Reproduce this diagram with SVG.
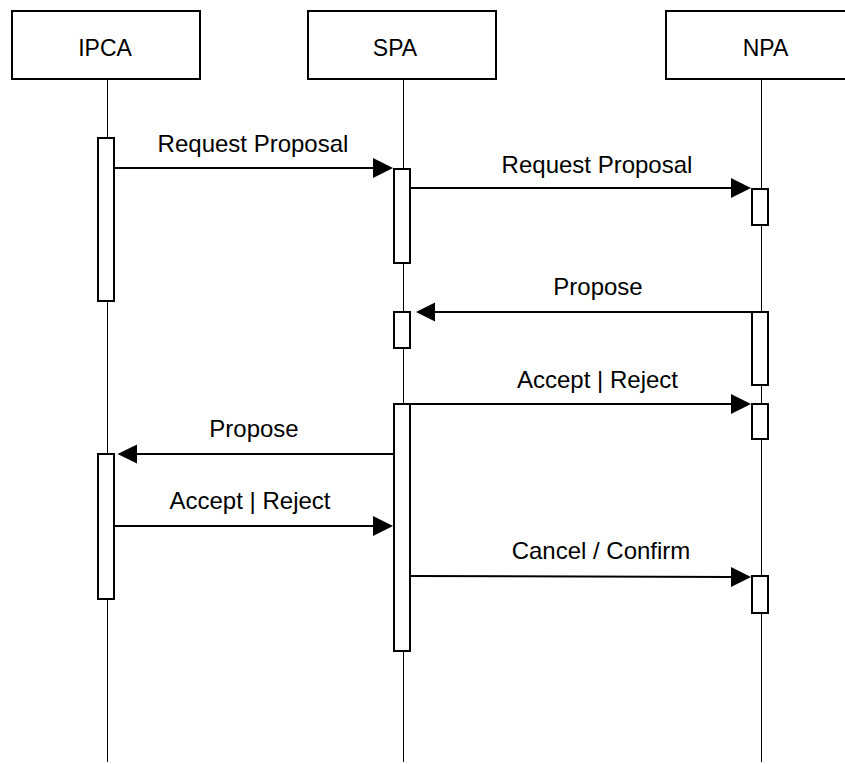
<svg xmlns="http://www.w3.org/2000/svg" width="845" height="764" viewBox="0 0 845 764">
<style>
  .box{fill:#fff;stroke:#000;stroke-width:2}
  .life{stroke:#000;stroke-width:1;fill:none}
  .act{fill:#fff;stroke:#000;stroke-width:2}
  .msg{stroke:#000;stroke-width:2;fill:none}
  .head{font-family:"Liberation Sans",Arial,sans-serif;font-size:23px;fill:#000;text-anchor:middle}
  .lbl{font-family:"Liberation Sans",Arial,sans-serif;font-size:24px;fill:#000;text-anchor:middle}
  .ah{fill:#000;stroke:none}
</style>
<rect width="845" height="764" fill="#fff"/>
<g id="lifelines">
  <line class="life" x1="107.5" y1="80" x2="107.5" y2="762"/>
  <line class="life" x1="403.5" y1="80" x2="403.5" y2="762"/>
  <line class="life" x1="761.5" y1="80" x2="761.5" y2="762"/>
</g>
<g id="IPCA">
  <rect class="box" x="12" y="11" width="188" height="68"/>
  <text class="head" x="105" y="56">IPCA</text>
  <rect class="act" x="98" y="138" width="16" height="163"/>
  <rect class="act" x="98" y="454" width="16" height="145"/>
</g>
<g id="SPA">
  <rect class="box" x="308" y="11" width="188" height="68"/>
  <text class="head" x="395" y="56">SPA</text>
  <rect class="act" x="394" y="169" width="16" height="94"/>
  <rect class="act" x="394" y="312" width="16" height="36"/>
  <rect class="act" x="394" y="404" width="16" height="247"/>
</g>
<g id="NPA">
  <rect class="box" x="666" y="11" width="188" height="68"/>
  <text class="head" x="765.5" y="56">NPA</text>
  <rect class="act" x="752" y="189" width="16" height="36"/>
  <rect class="act" x="752" y="312" width="16" height="73"/>
  <rect class="act" x="752" y="404" width="16" height="35"/>
  <rect class="act" x="752" y="576" width="16" height="37"/>
</g>
<g id="connectors">
  <line class="msg" x1="115" y1="168" x2="375" y2="168"/>
  <polygon class="ah" points="393,168 373,158 373,178"/>
  <text class="lbl" x="253" y="152">Request Proposal</text>

  <line class="msg" x1="411" y1="188" x2="733" y2="188"/>
  <polygon class="ah" points="751,188 731,178 731,198"/>
  <text class="lbl" x="597" y="173">Request Proposal</text>

  <line class="msg" x1="751" y1="312" x2="433" y2="312"/>
  <polygon class="ah" points="416,312 435,302.5 435,321.5"/>
  <text class="lbl" x="598" y="295">Propose</text>

  <line class="msg" x1="411" y1="404" x2="733" y2="404"/>
  <polygon class="ah" points="751,404 731,394 731,414"/>
  <text class="lbl" x="597.5" y="388">Accept | Reject</text>

  <line class="msg" x1="393" y1="454" x2="135" y2="454"/>
  <polygon class="ah" points="117.5,454 137,444.5 137,463.5"/>
  <text class="lbl" x="254" y="437">Propose</text>

  <line class="msg" x1="115" y1="526" x2="375" y2="526"/>
  <polygon class="ah" points="393,526 373,516 373,536"/>
  <text class="lbl" x="250" y="509">Accept | Reject</text>

  <line class="msg" x1="411" y1="576" x2="733" y2="577"/>
  <polygon class="ah" points="751,577 731,567 731,587"/>
  <text class="lbl" x="601" y="559">Cancel / Confirm</text>
</g>
</svg>
